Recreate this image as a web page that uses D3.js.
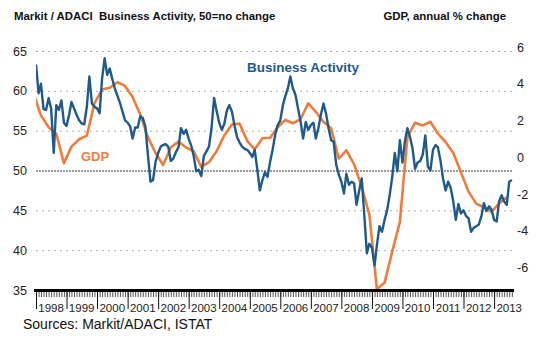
<!DOCTYPE html>
<html lang="en">
<head>
<meta charset="utf-8">
<title>Italy Business Activity vs GDP</title>
<script src="https://cdn.jsdelivr.net/npm/d3@7"></script>
<style>
  body { margin: 0; background: #fff; }
  svg text { font-family: "Liberation Sans", Arial, sans-serif; }
</style>
</head>
<body>
<script>
// monthly business activity index, Jan 1998 .. Aug 2013
var activity = [
  63.3, 59.7, 60.9, 57.7, 57.6, 59.1, 57.8, 52.2, 58.2, 57.6, 58.8, 56.0,
  55.6, 57.0, 58.6, 57.8, 57.0, 56.3, 55.9, 55.8, 58.0, 61.8, 58.4, 58.0,
  57.8, 57.2, 61.5, 64.1, 62.0, 62.8, 61.5, 60.3, 59.4, 58.5, 57.4, 56.3,
  56.0, 55.5, 54.0, 55.4, 55.4, 56.8, 56.6, 55.5, 51.9, 48.6, 48.8, 51.1,
  52.2, 53.0, 53.2, 53.3, 53.0, 51.2, 51.5, 52.3, 52.9, 55.3, 54.6, 55.1,
  54.0, 53.1, 51.9, 49.9, 50.1, 49.3, 51.8, 52.4, 53.0, 55.3, 59.1, 57.5,
  56.0, 55.1, 55.8, 57.5, 58.2, 57.4, 55.7, 54.2, 53.5, 53.0, 52.7, 52.6,
  52.2, 51.7, 52.6, 50.1, 47.5, 48.8, 49.8, 49.2, 51.1, 52.6, 54.5, 55.7,
  56.3, 58.2, 59.3, 60.3, 61.8, 60.3, 59.5, 57.8, 56.1, 54.0, 56.1, 55.1,
  55.7, 56.0, 54.0, 55.3, 57.0, 58.4, 57.2, 55.3, 53.8, 53.6, 50.7, 49.5,
  48.6, 47.1, 49.6, 48.2, 48.6, 48.4, 45.7, 47.5, 49.0, 44.5, 39.6, 40.8,
  40.3, 38.1, 40.6, 43.0, 42.3, 43.8, 45.0, 46.9, 49.2, 52.2, 49.9, 53.8,
  51.0, 53.8, 55.3, 54.2, 52.8, 50.2, 51.0, 51.2, 52.0, 54.4, 50.5, 50.0,
  52.6, 53.2, 52.9, 51.2, 49.0, 47.5, 48.6, 47.8, 46.1, 43.8, 45.8, 44.6,
  45.0, 44.3, 44.0, 42.3, 42.8, 43.0, 43.2, 44.2, 45.9, 44.9, 45.5, 45.1,
  43.8, 43.6, 46.1, 46.9, 46.1, 45.7, 48.6, 48.8
];

// GDP annual % change, quarterly, Q4 1997 .. Q2 2013
var gdp = [
  3.7,
  2.5, 1.85, 1.5, -0.1,
  0.8, 1.2, 1.4, 3.15,
  3.9, 4.0, 4.3, 4.1,
  3.5, 2.55, 1.3, 0.45,
  -0.2, 0.75, 1.07, 0.75,
  0.55, -0.3, -0.05, 0.55,
  1.4, 2.0, 2.05, 1.1,
  0.65, 1.25, 1.28, 1.85,
  2.25, 2.07, 2.3, 3.15,
  2.7, 2.15, 1.8, 0.15,
  0.6, -0.15, -1.4, -2.9,
  -6.95, -6.6, -4.9, -3.3,
  1.3, 2.1, 1.95, 2.15,
  1.5, 1.05, 0.45, -0.6,
  -1.65, -2.3, -2.5, -2.75,
  -2.3, -1.95
];

var years = ["1998", "1999", "2000", "2001", "2002", "2003", "2004", "2005",
             "2006", "2007", "2008", "2009", "2010", "2011", "2012", "2013"];
var leftTicks = [35, 40, 45, 50, 55, 60, 65];
var rightTicks = [-6, -4, -2, 0, 2, 4, 6];

var width = 547, height = 343;
var plotLeft = 36, plotRight = 513, plotTop = 51, plotBottom = 290;

var blue = "#1f5a8b", orange = "#ef7b3d";

var svg = d3.select("body").append("svg")
    .attr("width", width)
    .attr("height", height);

var x = d3.scaleTime()
    .domain([new Date(1998, 0, 1), new Date(2013, 7, 15)])
    .range([plotLeft, plotRight]);
var yL = d3.scaleLinear().domain([35, 65]).range([plotBottom, plotTop]);
var yR = d3.scaleLinear().domain([-7, 6]).range([plotBottom, plotTop]);

// gridlines
svg.append("g")
    .selectAll("line")
    .data(leftTicks.filter(function(d) { return d != 35; }))
    .enter().append("line")
    .attr("x1", plotLeft).attr("x2", plotRight)
    .attr("y1", function(d) { return yL(d) + 0.5; })
    .attr("y2", function(d) { return yL(d) + 0.5; })
    .attr("stroke", function(d) { return d == 50 ? "#7a7a7a" : "#ababab"; })
    .attr("stroke-width", function(d) { return d == 50 ? 1.4 : 1; })
    .attr("stroke-dasharray", function(d) { return d == 50 ? "2,1" : "2,4"; });

// left labels
svg.append("g")
    .selectAll("text")
    .data(leftTicks)
    .enter().append("text")
    .attr("x", 27)
    .attr("y", function(d) { return yL(d) + 4.5; })
    .attr("text-anchor", "end")
    .attr("font-size", 12.5)
    .attr("fill", "#222")
    .text(function(d) { return d; });

// right labels
svg.append("g")
    .selectAll("text")
    .data(rightTicks)
    .enter().append("text")
    .attr("x", 517)
    .attr("y", function(d) { return yR(d) + 0.5; })
    .attr("text-anchor", "start")
    .attr("font-size", 12.5)
    .attr("fill", "#222")
    .text(function(d) { return d; });

// clip lines to plot area
svg.append("clipPath").attr("id", "plot")
    .append("rect")
    .attr("x", plotLeft).attr("y", plotTop - 10)
    .attr("width", plotRight - plotLeft).attr("height", plotBottom - plotTop + 10);

var actLine = d3.line()
    .x(function(d, i) { return x(new Date(1998, i, 1)); })
    .y(function(d) { return yL(d); });

var gdpLine = d3.line()
    .x(function(d, i) { return x(new Date(1998, 3 * i - 1, 1)); })
    .y(function(d) { return yR(d); });

svg.append("path")
    .datum(gdp)
    .attr("clip-path", "url(#plot)")
    .attr("fill", "none")
    .attr("stroke", orange)
    .attr("stroke-width", 2.6)
    .attr("stroke-linejoin", "round")
    .attr("d", gdpLine);

svg.append("path")
    .datum(activity)
    .attr("clip-path", "url(#plot)")
    .attr("fill", "none")
    .attr("stroke", blue)
    .attr("stroke-width", 2.4)
    .attr("stroke-linejoin", "round")
    .attr("d", actLine);

// x axis: monthly minor ticks, yearly major ticks
var axisG = svg.append("g").attr("transform", "translate(0," + plotBottom + ")");
axisG.call(d3.axisBottom(x)
    .ticks(d3.timeMonth.every(1))
    .tickSize(7)
    .tickFormat(""));
axisG.selectAll(".tick line").attr("stroke", "#555");
axisG.select(".domain").remove();

var yearAxis = svg.append("g").attr("transform", "translate(0," + plotBottom + ")");
yearAxis.call(d3.axisBottom(x)
    .ticks(d3.timeYear.every(1))
    .tickSize(19)
    .tickFormat(""));
yearAxis.selectAll(".tick line").attr("stroke", "#111");
yearAxis.select(".domain").remove();

svg.append("line")
    .attr("x1", plotLeft - 2).attr("x2", plotRight + 1)
    .attr("y1", plotBottom + 0.5).attr("y2", plotBottom + 0.5)
    .attr("stroke", "#000")
    .attr("stroke-width", 3);

svg.append("g")
    .selectAll("text")
    .data(years)
    .enter().append("text")
    .attr("x", function(d) { return x(new Date(+d, 6, 1)); })
    .attr("y", 312)
    .attr("text-anchor", "middle")
    .attr("font-size", 11.5)
    .attr("fill", "#222")
    .text(function(d) { return d; });

// titles and labels
svg.append("text")
    .attr("x", 14).attr("y", 20)
    .attr("font-size", 11.4)
    .attr("font-weight", "bold")
    .attr("fill", "#111")
    .attr("xml:space", "preserve")
    .style("white-space", "pre")
    .text("Markit / ADACI  Business Activity, 50=no change");

svg.append("text")
    .attr("x", 506).attr("y", 20)
    .attr("text-anchor", "end")
    .attr("font-size", 11.4)
    .attr("font-weight", "bold")
    .attr("fill", "#111")
    .text("GDP, annual % change");

svg.append("text")
    .attr("x", 247).attr("y", 71.5)
    .attr("font-size", 13.5)
    .attr("font-weight", "bold")
    .attr("fill", blue)
    .text("Business Activity");

svg.append("text")
    .attr("x", 81).attr("y", 160.5)
    .attr("font-size", 13)
    .attr("font-weight", "bold")
    .attr("fill", orange)
    .text("GDP");

svg.append("text")
    .attr("x", 23).attr("y", 328.5)
    .attr("font-size", 14)
    .attr("fill", "#111")
    .text("Sources: Markit/ADACI, ISTAT");
</script>
</body>
</html>
